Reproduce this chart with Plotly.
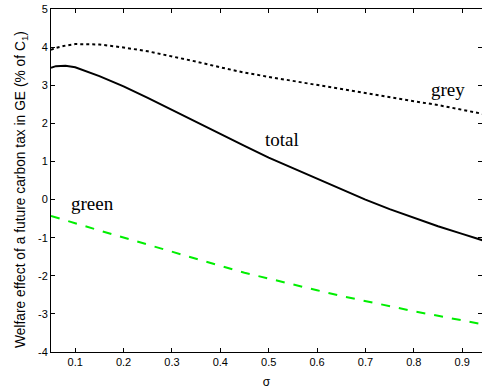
import plotly.graph_objects as go

sigma = [0.05, 0.06, 0.08, 0.10, 0.15, 0.20, 0.25, 0.30, 0.35, 0.40, 0.45, 0.50,
         0.55, 0.60, 0.65, 0.70, 0.75, 0.80, 0.85, 0.90, 0.95]
grey = [3.93, 3.98, 4.04, 4.08, 4.07, 3.99, 3.89, 3.76, 3.62, 3.47, 3.33, 3.22,
        3.11, 3.00, 2.89, 2.79, 2.68, 2.58, 2.48, 2.36, 2.23]
total = [3.46, 3.50, 3.51, 3.47, 3.24, 2.97, 2.67, 2.35, 2.03, 1.72, 1.41, 1.10,
         0.82, 0.55, 0.28, 0.00, -0.25, -0.48, -0.70, -0.90, -1.10]
green = [-0.43, -0.47, -0.55, -0.62, -0.81, -1.00, -1.19, -1.37, -1.56, -1.74, -1.92, -2.08,
         -2.23, -2.38, -2.53, -2.67, -2.80, -2.93, -3.05, -3.17, -3.29]

x_ticks = [0.1, 0.2, 0.3, 0.4, 0.5, 0.6, 0.7, 0.8, 0.9]
y_ticks = [-4, -3, -2, -1, 0, 1, 2, 3, 4, 5]

fig = go.Figure()
fig.add_trace(go.Scatter(x=sigma, y=grey, mode="lines",
                         line=dict(color="black", width=2, dash="dot")))
fig.add_trace(go.Scatter(x=sigma, y=total, mode="lines",
                         line=dict(color="black", width=2)))
fig.add_trace(go.Scatter(x=sigma, y=green, mode="lines",
                         line=dict(color="#00ee00", width=2, dash="dash")))

lab_font = dict(family="Liberation Serif", size=19, color="black")
fig.add_annotation(x=0.135, y=-0.1, text="green", showarrow=False, font=lab_font)
fig.add_annotation(x=0.527, y=1.58, text="total", showarrow=False, font=lab_font)
fig.add_annotation(x=0.871, y=2.89, text="grey", showarrow=False, font=lab_font)

sans = "Liberation Sans"
# y-axis title, rotated
fig.add_annotation(xref="paper", yref="paper", x=-0.068, y=0.474,
                   xanchor="center", yanchor="middle", textangle=-90, showarrow=False,
                   text="Welfare effect of a future carbon tax in GE (% of C<sub>1</sub>)",
                   font=dict(family=sans, size=13.8, color="black"))

axis_common = dict(showgrid=False, zeroline=False, showline=True, linecolor="black",
                   linewidth=1, mirror="ticks", ticks="inside", ticklen=4,
                   tickcolor="black", automargin=False, ticklabeloverflow="allow",
                   tickfont=dict(family=sans, size=11, color="black"))

fig.update_xaxes(range=[0.05, 0.941], tickvals=x_ticks, ticktext=[str(v) for v in x_ticks],
                 title=dict(text="σ", font=dict(family=sans, size=12, color="black"),
                            standoff=10),
                 **axis_common)
fig.update_yaxes(range=[-4, 5], tickvals=y_ticks, ticktext=[str(v) for v in y_ticks],
                 **axis_common)

fig.update_layout(width=482, height=389, margin=dict(l=51, r=0, t=9, b=37),
                  plot_bgcolor="white", paper_bgcolor="white", showlegend=False)

fig.write_html("out.html", config={"displayModeBar": False},
               post_script="document.body.style.margin='0px';")
